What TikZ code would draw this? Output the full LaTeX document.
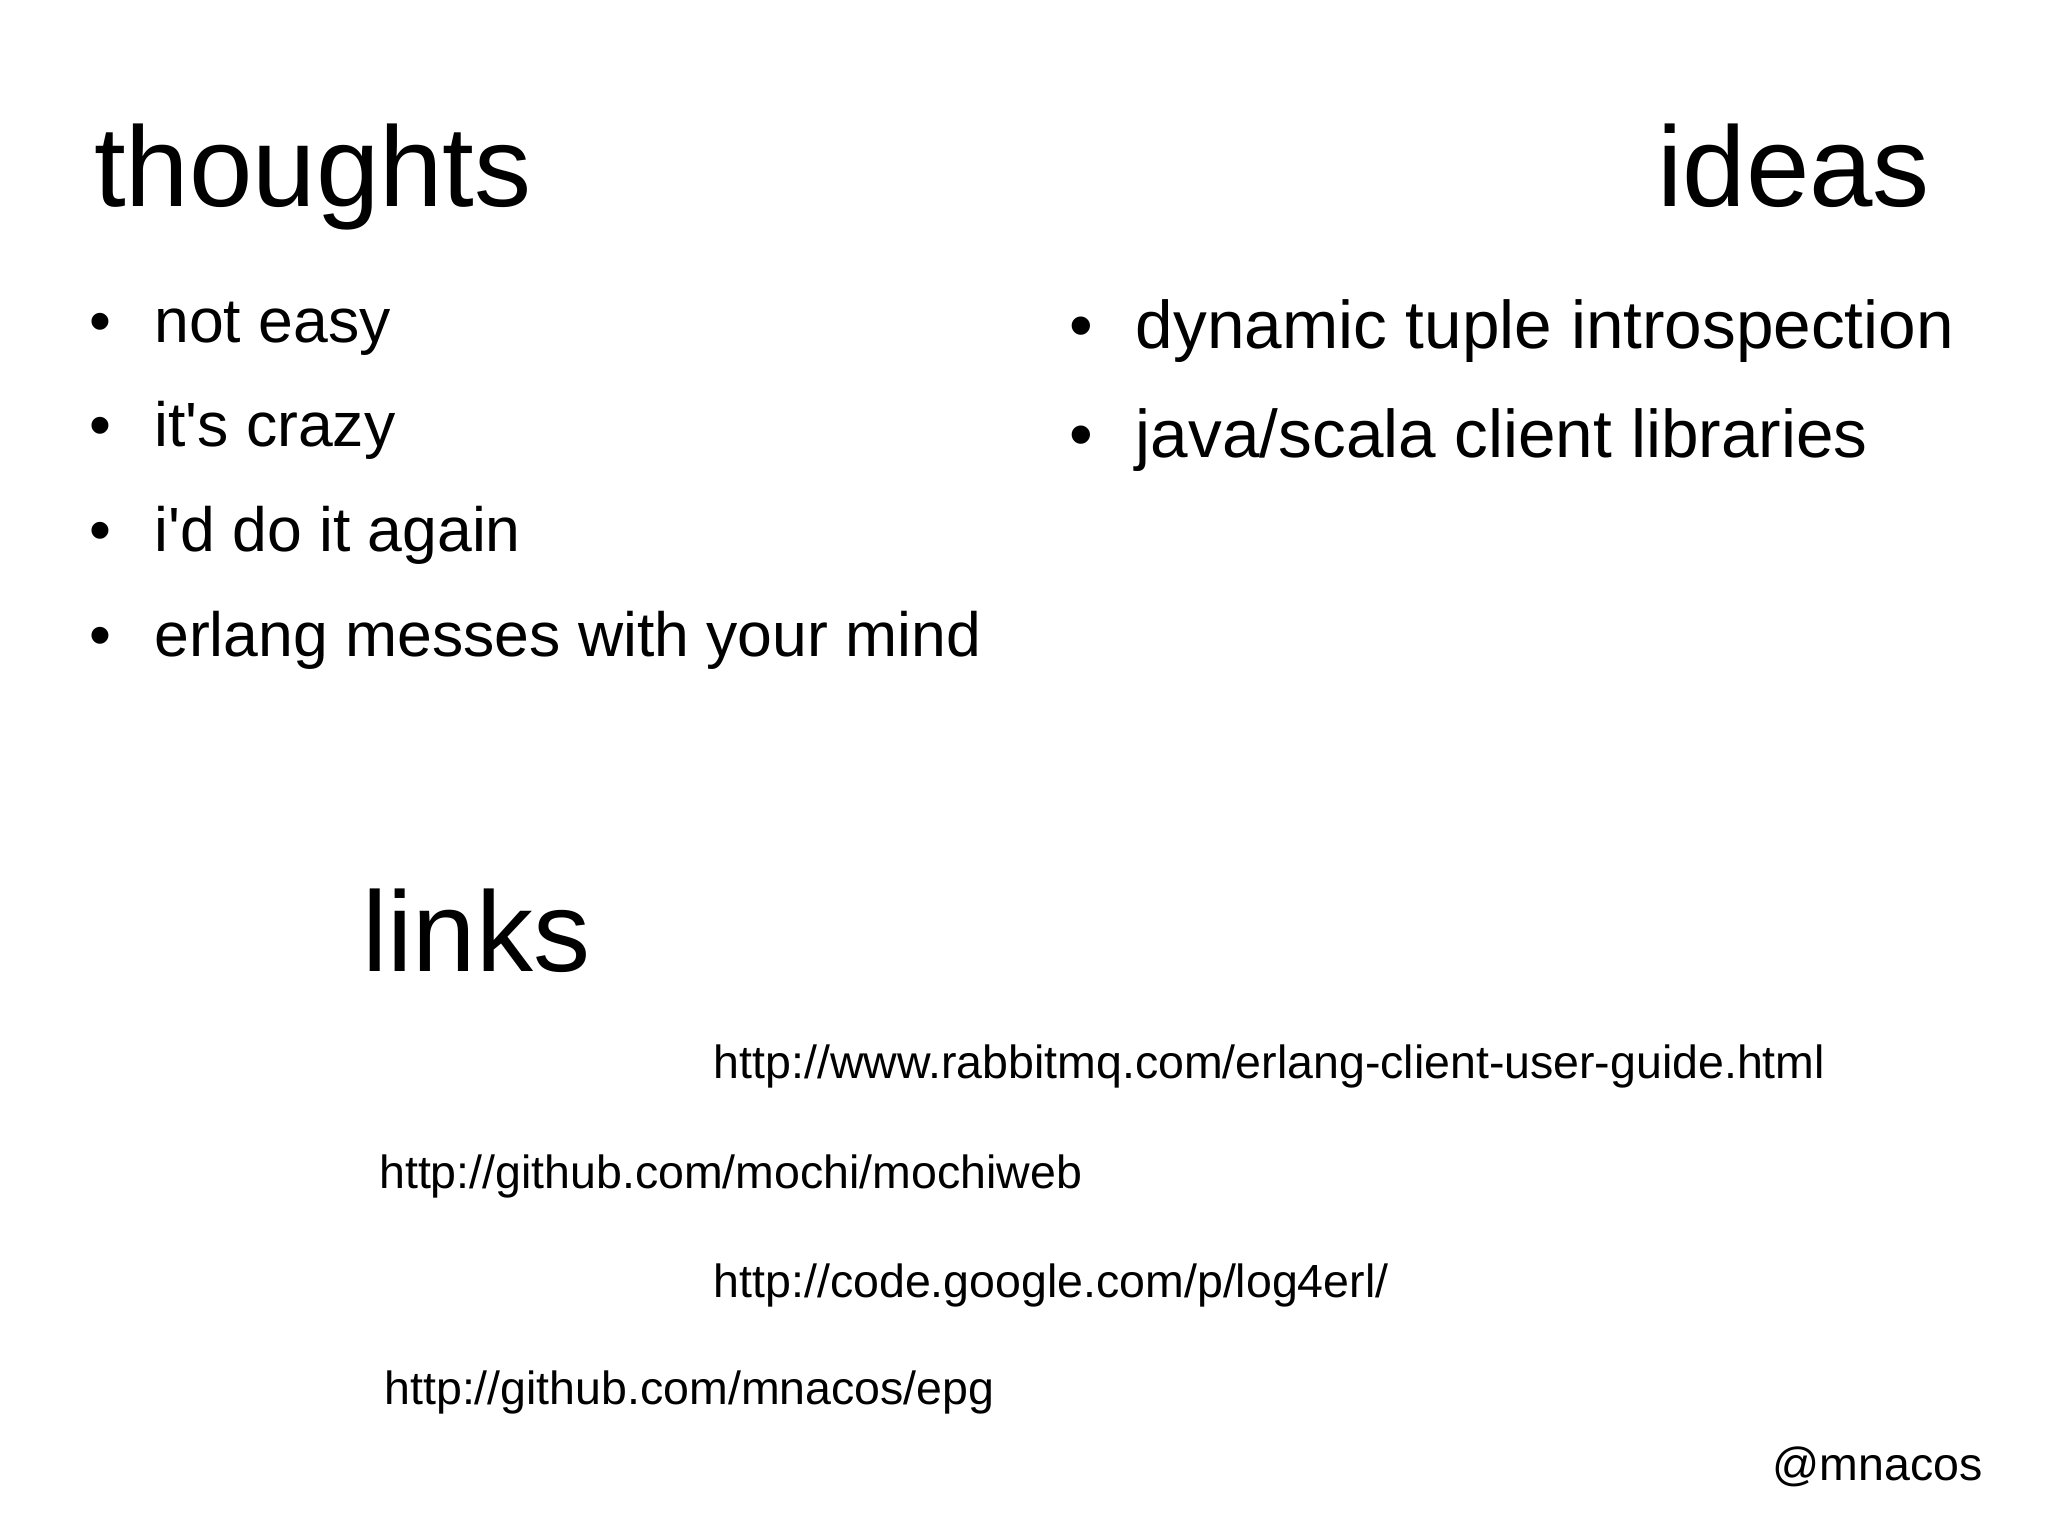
\documentclass[tikz,border=0pt]{standalone}
\usepackage{fontspec}
\setmainfont{Liberation Sans}
\begin{document}
\begin{tikzpicture}[x=1.307pt,y=-1.307pt,
  every node/.style={inner sep=0pt,anchor=base west},
  ttl/.style={font=\fontsize{114}{130}\selectfont},
  bl/.style={font=\fontsize{62.5}{70}\selectfont},
  bi/.style={font=\fontsize{67.5}{76}\selectfont},
  url/.style={font=\fontsize{46.5}{52}\selectfont}]
\useasboundingbox[fill=white] (0,0) rectangle (1567,1175);
\node[ttl] (t1) at (72,158) {thoughts};
\node[ttl] (t2) at (1268,158) {ideas};
\node[ttl] (t3) at (277,743) {links};
\node[bl] (bd1) at (68,262) {•};
\node[bl] (b1) at (118,262) {not easy};
\node[bl] (bd2) at (68,342) {•};
\node[bl] (b2) at (118,342) {it\textquotesingle s crazy};
\node[bl] (bd3) at (68,422) {•};
\node[bl] (b3) at (118,422) {i\textquotesingle d do it again};
\node[bl] (bd4) at (68,502) {•};
\node[bl] (b4) at (118,502) {erlang messes with your mind};
\node[bi] (id1) at (818,267) {•};
\node[bi] (i1) at (869,267) {dynamic tuple introspection};
\node[bi] (id2) at (818,350) {•};
\node[bi] (i2) at (869,350) {java/scala client libraries};
\node[url] (u1) at (546,825) {http://www.rabbitmq.com/erlang-client-user-guide.html};
\node[url] (u2) at (290,909) {http://github.com/mochi/mochiweb};
\node[url] (u3) at (546,993) {http://code.google.com/p/log4erl/};
\node[url] (u4) at (294,1075) {http://github.com/mnacos/epg};
\node[url,anchor=base east] (m) at (1517,1133) {@mnacos};
\end{tikzpicture}
\end{document}
